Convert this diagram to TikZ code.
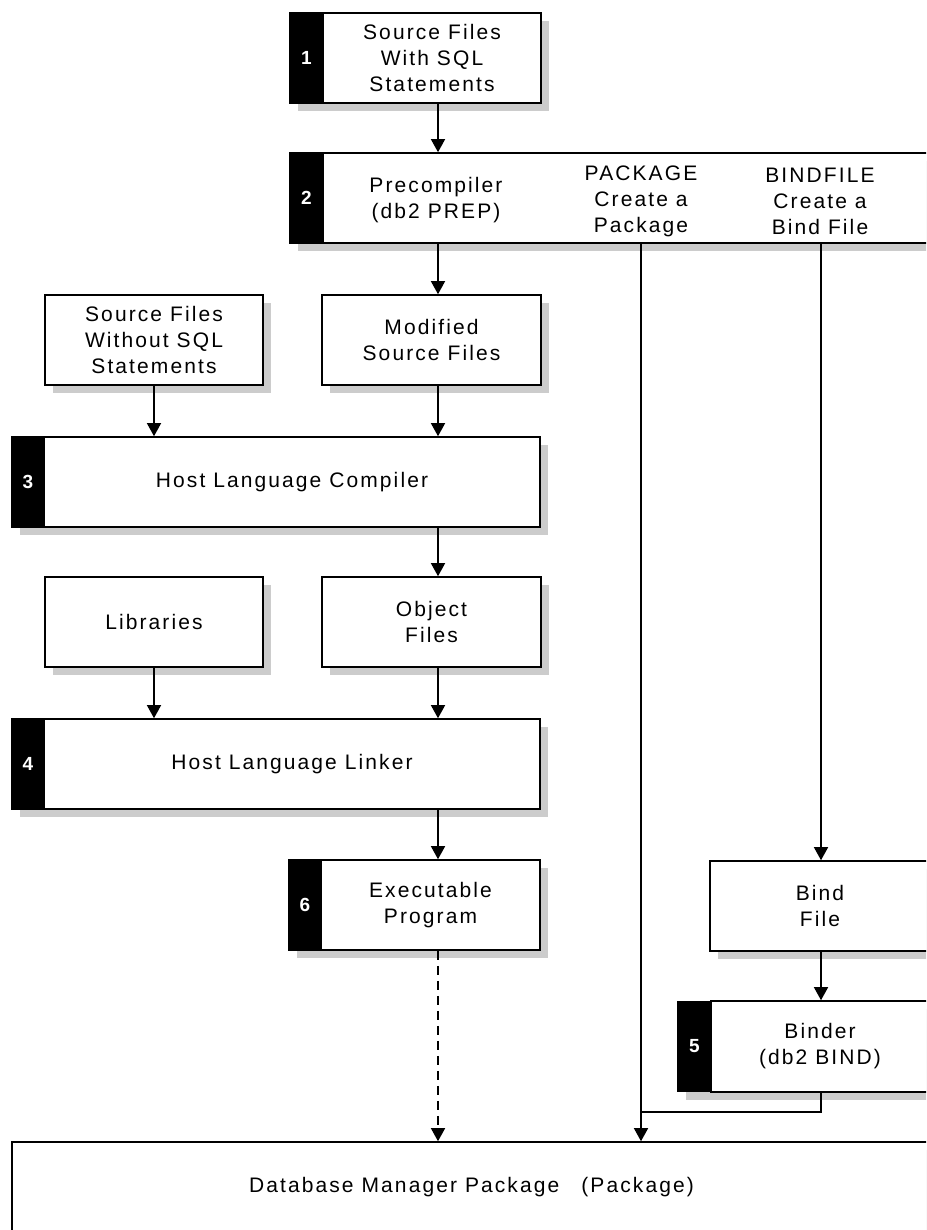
\documentclass[tikz,border=0pt]{standalone}
\usepackage{fontspec}
\usetikzlibrary{arrows.meta,shadows}
\newfontfamily\labfont{Liberation Sans}[LetterSpace=10]
\newfontfamily\numfont{Liberation Sans}
\definecolor{shadowgray}{RGB}{204,204,204}
\tikzset{
  shd/.style={drop shadow={shadow xshift=8pt,shadow yshift=-8pt,fill=shadowgray,opacity=1}},
  box/.style={shd, draw=black, line width=1.6pt, fill=white, inner sep=0pt, minimum height=90pt, align=center, font={\labfont\fontsize{21}{26}\selectfont}},
  tab/.style={shd, draw=black, line width=1.6pt, fill=black, inner sep=0pt, minimum height=90pt, minimum width=33pt, text=white, font={\numfont\bfseries\fontsize{19}{21}\selectfont}},
  lbl/.style={inner sep=0pt, align=center, font={\labfont\fontsize{21}{26}\selectfont}},
  link/.style={line width=1.4pt},
  arr/.style={link, -{Triangle[width=14pt,length=13pt]}},
}
\begin{document}
\begin{tikzpicture}[x=1pt,y=-1pt]
\useasboundingbox (0,0) rectangle (926,1230);
\clip (0,0) rectangle (926,1230);
\fill[white] (0,0) rectangle (926,1230);
% columns
\coordinate (cL) at (154,0);
\coordinate (cM) at (438,0);
\coordinate (cP) at (641,0);
\coordinate (cB) at (821,0);
% box 1
\node[tab] (t1) at (306.5,58) {1};
\node[box, minimum width=218pt] (b1) at (432,58) {Source Files\\With SQL\\Statements};
% box 2
\node[tab] (t2) at (306.5,198) {2};
\node[box, minimum width=637pt] (b2) at (641.5,198) {};
\node[lbl] (prep) at (436,200) {Precompiler\\(db2 PREP)};
\node[lbl] (pkg) at (641,201) {PACKAGE\\Create a\\Package};
\node[lbl] (bfl) at (820,201) {BINDFILE\\Create a\\Bind File};
% row 3
\node[box, minimum width=218pt] (swo) at (154,340) {Source Files\\Without SQL\\Statements};
\node[box, minimum width=219pt] (mod) at (431.5,340) {Modified\\Source Files};
% box 3
\node[tab, minimum width=32pt] (t3) at (28,482) {3};
\node[box, minimum width=496pt] (b3) at (292,482) {Host Language Compiler};
% row 5
\node[box, minimum width=218pt] (lib) at (154,622) {Libraries};
\node[box, minimum width=219pt] (obj) at (431.5,622) {Object\\Files};
% box 4
\node[tab, minimum width=32pt] (t4) at (28,764) {4};
\node[box, minimum width=496pt] (b4) at (292,764) {Host Language Linker};
% executable
\node[tab, minimum width=32pt] (t6) at (305,905) {6};
\node[box, minimum width=219pt] (exe) at (430.5,905) {Executable\\Program};
% bind file
\node[box, minimum width=250pt] (bf) at (835,906) {};
\node[lbl] (bflab) at (820,906) {Bind\\File};
% binder
\node[tab] (t5) at (694.5,1046.5) {5};
\node[box, minimum width=249pt, minimum height=91pt] (bnd) at (835.5,1046.5) {};
\node[lbl] (bndlab) at (820,1046.5) {Binder\\(db2 BIND)};
% database
\node[box, minimum width=948pt, minimum height=120pt] (db) at (486,1202) {};
\node[lbl] (dblab) at (471.5,1187) {Database Manager Package\hspace{22pt}(Package)};
% connectors
\coordinate (join) at (641,1112);
\draw[arr] (b1.south -| cM) -- (b2.north -| cM);
\draw[arr] (b2.south -| cM) -- (mod.north -| cM);
\draw[arr] (mod.south -| cM) -- (b3.north -| cM);
\draw[arr] (swo.south -| cL) -- (b3.north -| cL);
\draw[arr] (b3.south -| cM) -- (obj.north -| cM);
\draw[arr] (obj.south -| cM) -- (b4.north -| cM);
\draw[arr] (lib.south -| cL) -- (b4.north -| cL);
\draw[arr] (b4.south -| cM) -- (exe.north -| cM);
\draw[arr, dashed, dash pattern=on 9pt off 6pt] (exe.south -| cM) -- (db.north -| cM);
\draw[arr] (b2.south -| cP) -- (db.north -| cP);
\draw[arr] (b2.south -| cB) -- (bf.north -| cB);
\draw[arr] (bf.south -| cB) -- (bnd.north -| cB);
\draw[link] (bnd.south -| cB) |- (join);
\end{tikzpicture}
\end{document}
